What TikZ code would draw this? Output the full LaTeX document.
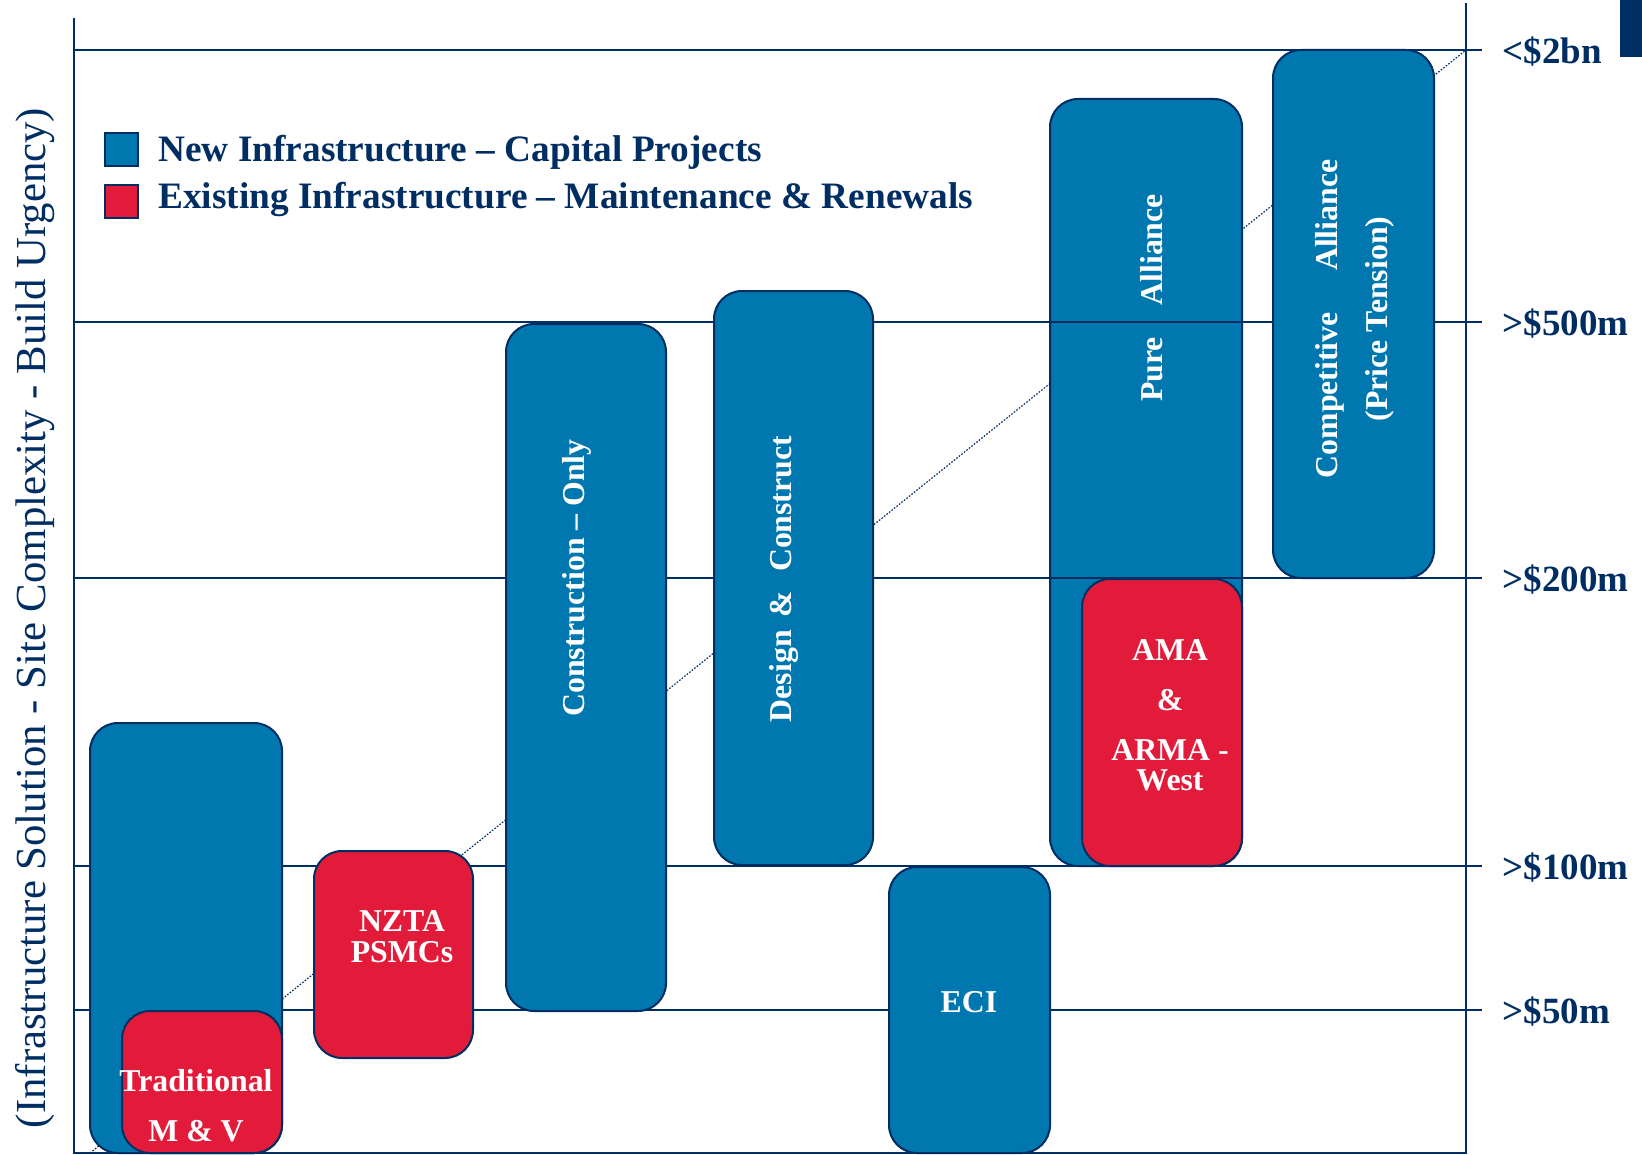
\documentclass[tikz,border=0pt]{standalone}
\usepackage{fontspec}
\setmainfont{Liberation Serif}
\usetikzlibrary{positioning}

\definecolor{navy}{RGB}{0,45,98}
\definecolor{capblue}{RGB}{0,119,174}
\definecolor{renred}{RGB}{227,27,58}

\begin{document}
\begin{tikzpicture}[x=0.5pt,y=-0.5pt,
  gridline/.style={navy,line width=1pt},
  axisline/.style={navy,line width=1.4pt},
  block/.style={draw=navy,line width=1pt,rounded corners=14pt,inner sep=0pt},
  newblock/.style={block,fill=capblue},
  oldblock/.style={block,fill=renred},
  boxtext/.style={white,font=\fontsize{15.9}{25}\selectfont\bfseries,align=center,inner sep=0pt},
  ticktext/.style={navy,font=\fontsize{18.5}{22}\selectfont\bfseries,anchor=base west,inner sep=0pt},
  legtext/.style={navy,font=\fontsize{18.65}{22}\selectfont\bfseries,anchor=base west,inner sep=0pt},
  keybox/.style={draw=navy,line width=1pt,minimum size=16.5pt,inner sep=0pt}]
\useasboundingbox (0,0) rectangle (1642,1155);

% axis corners
\coordinate (ytop) at (74,18);
\coordinate (o) at (74,1153);
\coordinate (xend) at (1466,1153);
\coordinate (rtop) at (1466,3);

% trend line, behind everything
\coordinate (trend0) at (90,1153);
\coordinate (trend1) at (1466,50);
\draw[navy,line width=0.6pt,dash pattern=on 0.8pt off 0.8pt] (trend0) -- (trend1);

% Pure Alliance lies under the value bands
\node[newblock,minimum width=96pt,minimum height=383.5pt] (pureAll) at (1146,482.5) {};

% value bands and their labels
\foreach \yy/\lbl/\nm in {50/{<\$2bn}/l2bn, 322/{>\$500m}/l500, 578/{>\$200m}/l200, 866/{>\$100m}/l100, 1010/{>\$50m}/l50} {
  \draw[gridline] (74,\yy) -- (1482,\yy);
  \node[ticktext] (\nm) at (1502,\yy+13.5) {\lbl};
}

% delivery models
\node[newblock,minimum width=96pt,minimum height=215pt] (trad) at (186,938) {};
\node[oldblock,minimum width=80pt,minimum height=71pt] (tradMV) at (202,1082) {};
\node[oldblock,minimum width=79.5pt,minimum height=103.5pt] (nzta) at (393.5,954.5) {};
\node[newblock,minimum width=80pt,minimum height=343.5pt] (consOnly) at (586,667.5) {};
\node[newblock,minimum width=79.5pt,minimum height=287pt] (desCons) at (793.5,578) {};
\node[newblock,minimum width=80.5pt,minimum height=143pt] (eci) at (969.5,1010) {};
\node[oldblock,minimum width=80pt,minimum height=143.5pt] (amaArma) at (1162,722.5) {};
\node[newblock,minimum width=80.5pt,minimum height=264pt] (compAll) at (1353.5,314) {};

% Text Nodes
\node[boxtext] (tradLbl) at (196,1106) {Traditional\\M \& V};
\node[boxtext,font=\fontsize{15.9}{15.5}\selectfont\bfseries] (nztaLbl) at (402,937) {NZTA\\PSMCs};
\node[boxtext,rotate=90] (consLbl) at (577,578) {Construction – Only};
\node[boxtext,rotate=90] (desLbl) at (784,579) {Design\hspace{0.4em}\&\hspace{0.6em}Construct};
\node[boxtext] (eciLbl) at (969,1002) {ECI};
\node[boxtext,rotate=90] (pureLbl) at (1152,298) {Pure\hspace{1em}Alliance};
\node[boxtext,font=\fontsize{15.9}{15}\selectfont\bfseries] (amaLbl) at (1170,715) {AMA\\[10pt]\&\\[10pt]ARMA -\\West};
\node[boxtext,rotate=90] (compLbl) at (1355,319) {Competitive\hspace{1.3em}Alliance\\(Price Tension)};

% legend
\node[keybox,fill=capblue] (keyNew) at (121.5,149.5) {};
\node[keybox,fill=renred] (keyOld) at (121.5,201.5) {};
\node[legtext] (legNew) at (158,162) {New Infrastructure – Capital Projects};
\node[legtext] (legOld) at (158,209) {Existing Infrastructure – Maintenance \& Renewals};

% axes
\draw[axisline] (ytop) -- (o) -- (xend) -- (rtop);
\node[navy,rotate=90,font=\fontsize{21.4}{24}\selectfont,inner sep=0pt] (yLbl) at (35,618) {(Infrastructure Solution - Site Complexity - Build Urgency)};

% corner tab
\fill[navy] (1620,0) rectangle (1642,57);
\end{tikzpicture}
\end{document}
